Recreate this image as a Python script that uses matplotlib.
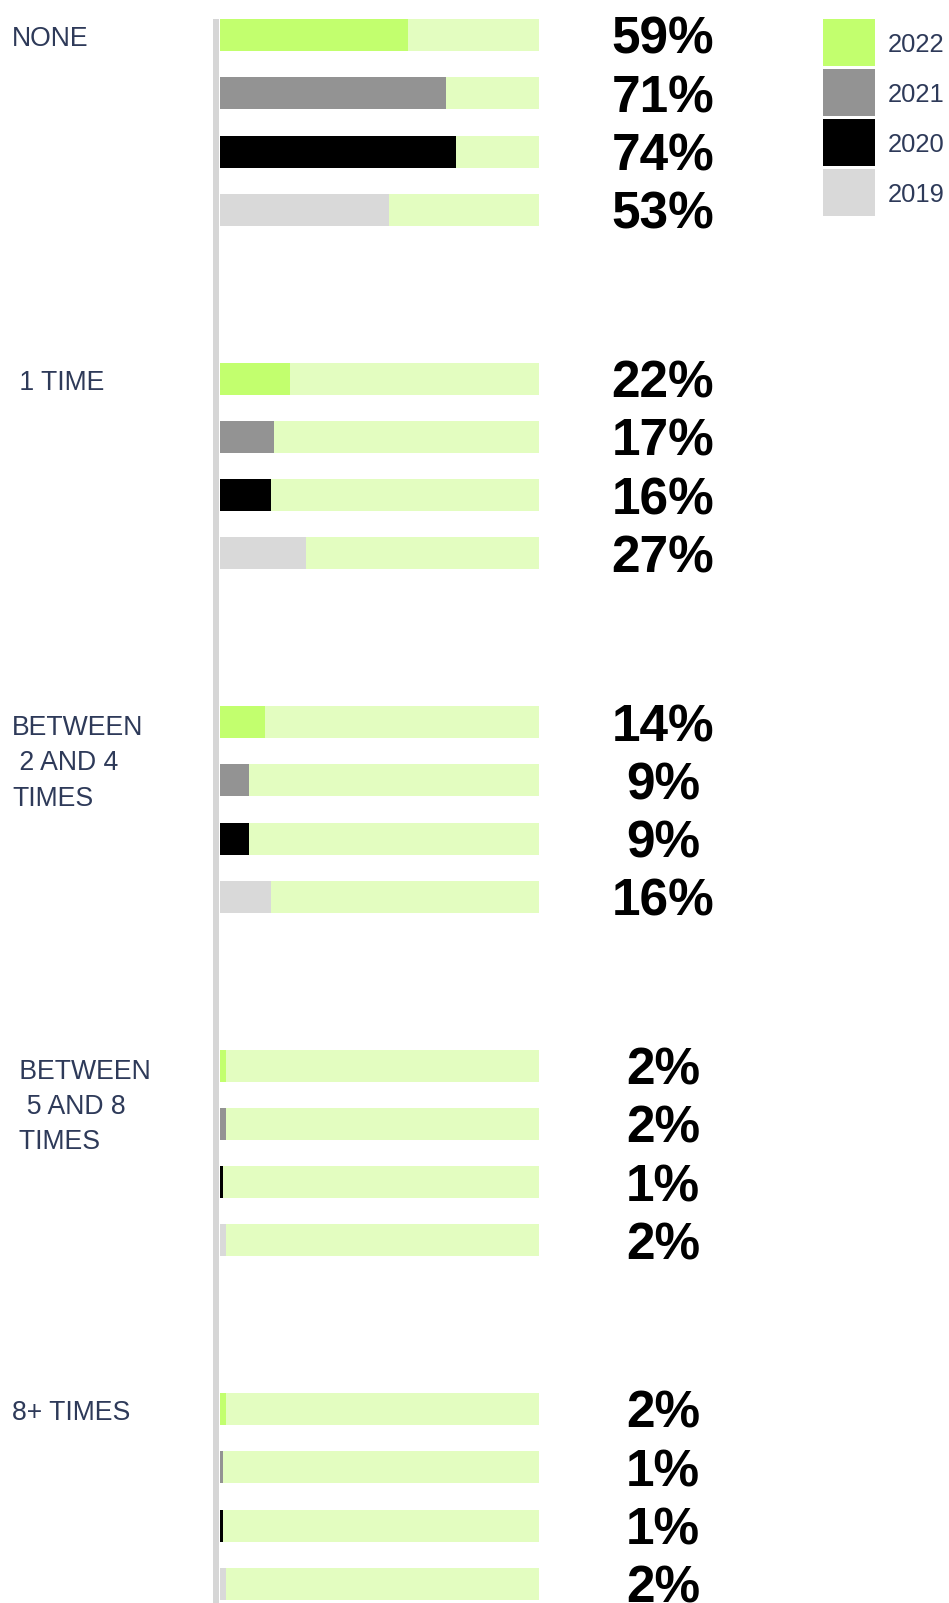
import matplotlib.pyplot as plt
import matplotlib.transforms as mtransforms

# answers by year (top bar to bottom bar in each group)
years = ['2022', '2021', '2020', '2019']
year_colors = ['#c2ff6e', '#939393', '#000000', '#d9d9d9']

categories = ['NONE', ' 1 TIME', 'BETWEEN\n 2 AND 4\nTIMES', ' BETWEEN\n  5 AND 8\n TIMES', '8+ TIMES']
none_vals = [59, 71, 74, 53]
one_time_vals = [22, 17, 16, 27]
two_to_four_vals = [14, 9, 9, 16]
five_to_eight_vals = [2, 2, 1, 2]
eight_plus_vals = [2, 1, 1, 2]
values = [none_vals, one_time_vals, two_to_four_vals, five_to_eight_vals, eight_plus_vals]

W, H = 949, 1603
fig = plt.figure(figsize=(W / 100, H / 100), dpi=100)

# bar area in pixels
left_px, track_px = 220, 319
ax = fig.add_axes([left_px / W, 0, track_px / W, 1])
ax.set_xlim(0, 100)
ax.set_ylim(H, 0)
ax.axis('off')

label_font = 'Liberation Sans'
navy = '#2e3a59'
track_color = '#e3fdc0'

group_step = 343.5
bar_step = 58.3
first_top = 19
bar_h = 32
line_step = 36.3

blend = mtransforms.blended_transform_factory(fig.transFigure, ax.transData)

for i, (cat, vals) in enumerate(zip(categories, values)):
    top = first_top + i * group_step
    ys = [top + j * bar_step + bar_h / 2 for j in range(len(vals))]
    ax.barh(ys, [100] * len(vals), height=bar_h, color=track_color, linewidth=0)
    ax.barh(ys, vals, height=bar_h, color=year_colors, linewidth=0)
    for y, v in zip(ys, vals):
        ax.text(663 / W, y + 19, f'{v}%', transform=blend, ha='center', va='baseline',
                fontsize=37, fontweight='bold', family=label_font, color='black')
    n_lines = cat.count('\n')
    ax.text(12 / W, top + 27 + n_lines * line_step, cat, transform=blend, ha='left',
            va='baseline', fontsize=19.2, family=label_font, color=navy, linespacing=1.46)

# grey axis line on the left of the bars
ax.vlines(216 / W, first_top, H, transform=blend, color='#d6d6d6', linewidth=4.3, clip_on=False)

# legend: stacked colour boxes with year labels
leg_ax = fig.add_axes([823 / W, 1 - 216 / H, 52 / W, 197 / H])
leg_ax.set_xlim(0, 1)
leg_ax.set_ylim(3.47, -0.47)
leg_ax.axis('off')
leg_ax.barh(range(len(years)), [1] * len(years), height=0.94, color=year_colors, linewidth=0)
for k, yr in enumerate(years):
    leg_ax.text(65 / 52, k, yr, ha='left', va='center_baseline', fontsize=18.4,
                family=label_font, color=navy, clip_on=False)

plt.savefig('out.png', dpi=100)
